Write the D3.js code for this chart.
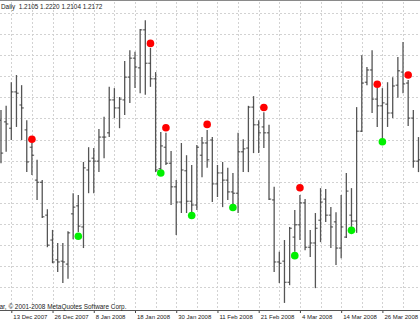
<!DOCTYPE html>
<html>
<head>
<meta charset="utf-8">
<script src="https://cdn.jsdelivr.net/npm/d3@7"></script>
<style>
html, body { margin: 0; padding: 0; background: #fff; }
svg { display: block; }
text { font-family: "Liberation Sans", Arial, sans-serif; fill: #222; }
</style>
</head>
<body>
<div id="chart"></div>
<script>
"use strict"

// daily bars, first one is two bars before 13 Dec 2007
const firstBar = -2;

const opens = [1.2346, 1.2342, 1.2327, 1.2413, 1.2382, 1.2323, 1.2282, 1.2204, 1.2199, 1.2121,
    1.2062, 1.2015, 1.2012, 1.2005, 1.2124, 1.2143, 1.2093, 1.2228, 1.2256, 1.2249,
    1.2306, 1.2316, 1.2394, 1.2375, 1.2394, 1.2448, 1.2493, 1.2470, 1.2560, 1.2481,
    1.2444, 1.2231, 1.2282, 1.2244, 1.2188, 1.2152, 1.2226, 1.2154, 1.2145, 1.2263,
    1.2292, 1.2299, 1.2195, 1.2221, 1.2204, 1.2176, 1.2173, 1.2271, 1.2280, 1.2377,
    1.2335, 1.2330, 1.2316, 1.2157, 1.2010, 1.2012, 1.1962, 1.2069, 1.2098, 1.2150,
    1.2045, 1.2055, 1.2109, 1.2159, 1.2121, 1.2105, 1.2043, 1.2069, 1.2121, 1.2107,
    1.2320, 1.2436, 1.2465, 1.2396, 1.2380, 1.2384, 1.2363, 1.2429, 1.2460, 1.2434,
    1.2351, 1.2249];

const highs = [1.2370, 1.2380, 1.2436, 1.2453, 1.2429, 1.2346, 1.2292, 1.2252, 1.2204, 1.2135,
    1.2086, 1.2055, 1.2055, 1.2083, 1.2173, 1.2169, 1.2247, 1.2282, 1.2280, 1.2325,
    1.2354, 1.2425, 1.2422, 1.2401, 1.2486, 1.2512, 1.2508, 1.2562, 1.2583, 1.2517,
    1.2460, 1.2318, 1.2316, 1.2273, 1.2204, 1.2292, 1.2263, 1.2240, 1.2287, 1.2306,
    1.2323, 1.2306, 1.2240, 1.2247, 1.2233, 1.2221, 1.2316, 1.2301, 1.2380, 1.2403,
    1.2346, 1.2365, 1.2335, 1.2188, 1.2034, 1.2062, 1.2093, 1.2133, 1.2169, 1.2159,
    1.2086, 1.2126, 1.2185, 1.2183, 1.2140, 1.2128, 1.2169, 1.2221, 1.2185, 1.2377,
    1.2500, 1.2472, 1.2512, 1.2422, 1.2422, 1.2436, 1.2448, 1.2496, 1.2531, 1.2441,
    1.2370, 1.2306];

const lows = [1.2244, 1.2271, 1.2299, 1.2330, 1.2299, 1.2223, 1.2216, 1.2157, 1.2114, 1.2045,
    1.2007, 1.1986, 1.1960, 1.1970, 1.2064, 1.2081, 1.2043, 1.2173, 1.2173, 1.2223,
    1.2256, 1.2306, 1.2351, 1.2327, 1.2358, 1.2387, 1.2422, 1.2410, 1.2406, 1.2425,
    1.2223, 1.2228, 1.2240, 1.2145, 1.2074, 1.2126, 1.2126, 1.2126, 1.2133, 1.2211,
    1.2233, 1.2152, 1.2164, 1.2140, 1.2157, 1.2147, 1.2126, 1.2223, 1.2223, 1.2268,
    1.2268, 1.2280, 1.2157, 1.1986, 1.1960, 1.1913, 1.1955, 1.2034, 1.2062, 1.2038,
    1.2022, 1.1948, 1.2057, 1.2105, 1.2043, 1.2003, 1.2019, 1.2067, 1.2093, 1.2079,
    1.2318, 1.2429, 1.2363, 1.2330, 1.2301, 1.2330, 1.2351, 1.2399, 1.2410, 1.2332,
    1.2233, 1.2223];

const closes = [1.2268, 1.2337, 1.2413, 1.2410, 1.2375, 1.2247, 1.2263, 1.2199, 1.2117, 1.2050,
    1.2010, 1.2010, 1.2010, 1.2079, 1.2140, 1.2095, 1.2233, 1.2249, 1.2249, 1.2306,
    1.2306, 1.2394, 1.2375, 1.2396, 1.2448, 1.2493, 1.2472, 1.2560, 1.2481, 1.2444,
    1.2228, 1.2285, 1.2244, 1.2188, 1.2152, 1.2228, 1.2154, 1.2145, 1.2282, 1.2292,
    1.2252, 1.2195, 1.2221, 1.2204, 1.2176, 1.2173, 1.2271, 1.2278, 1.2377, 1.2335,
    1.2316, 1.2316, 1.2159, 1.2010, 1.2007, 1.1962, 1.2090, 1.2098, 1.2150, 1.2045,
    1.2055, 1.2090, 1.2152, 1.2121, 1.2093, 1.2043, 1.2093, 1.2178, 1.2107, 1.2320,
    1.2434, 1.2465, 1.2396, 1.2380, 1.2387, 1.2363, 1.2427, 1.2463, 1.2432, 1.2351,
    1.2249, 1.2252];

// signal dots (bar number, price)
const redBars = [4, 27, 30, 38, 49, 56, 71, 77];
const redPrices = [1.2301, 1.2528, 1.2328, 1.2336, 1.2376, 1.2186, 1.2431, 1.2453];
const greenBars = [13, 29, 35, 43, 55, 66, 72];
const greenPrices = [1.2071, 1.2221, 1.2120, 1.2139, 1.2025, 1.2085, 1.2295];

// date labels on the time axis
const tickBars = [0, 8, 16, 24, 32, 40, 48, 56, 64, 72];
const tickLabels = ["13 Dec 2007", "26 Dec 2007", "8 Jan 2008", "18 Jan 2008", "30 Jan 2008",
    "11 Feb 2008", "21 Feb 2008", "4 Mar 2008", "14 Mar 2008", "26 Mar 2008"];

const headerText = "Daily  1.2105 1.2220 1.2104 1.2172";
const copyrightText = "ar, \u00a9 2001-2008 MetaQuotes Software Corp.";

const width = 420, height = 323;
const axisY = 310;

let drawing = d3.select("#chart")
    .append("svg")
    .attr("width", width)
    .attr("height", height);

drawing.append("rect")
    .attr("width", width)
    .attr("height", height)
    .attr("fill", "#fff");

let x = d3.scaleLinear().domain([0, 72]).range([11.3, 382.4]);
let y = d3.scaleLinear().domain([1.2600, 1.1950]).range([13, 287.3]);

let bars = d3.range(opens.length).map(i => ({
    n: i + firstBar, o: opens[i], h: highs[i], l: lows[i], c: closes[i]
}));

/* dotted grid */
let gridX = d3.range(0, 80, 4);
let gridY = d3.range(1.1950, 1.2601, 0.005);

drawing.append("g").selectAll("line")
    .data(gridX)
    .join("line")
    .attr("x1", d => Math.round(x(d)) + 0.5)
    .attr("x2", d => Math.round(x(d)) + 0.5)
    .attr("y1", 2)
    .attr("y2", axisY)
    .attr("stroke", "#d2d2d2")
    .attr("stroke-dasharray", "2,2");

drawing.append("g").selectAll("line")
    .data(gridY)
    .join("line")
    .attr("x1", 0)
    .attr("x2", width)
    .attr("y1", d => Math.round(y(d)) + 0.5)
    .attr("y2", d => Math.round(y(d)) + 0.5)
    .attr("stroke", "#d2d2d2")
    .attr("stroke-dasharray", "2,2");

// top frame line
drawing.append("line")
    .attr("x1", 0).attr("x2", width)
    .attr("y1", 0.5).attr("y2", 0.5)
    .attr("stroke", "#8a8a8a");

/* OHLC bars */
let barG = drawing.append("g").attr("stroke", "#555");

barG.selectAll("line.hl")
    .data(bars)
    .join("line")
    .attr("class", "hl")
    .attr("x1", d => x(d.n))
    .attr("x2", d => x(d.n))
    .attr("y1", d => y(d.h))
    .attr("y2", d => y(d.l))
    .attr("stroke-width", 1.3);

barG.selectAll("line.op")
    .data(bars)
    .join("line")
    .attr("class", "op")
    .attr("x1", d => x(d.n) - 2.2)
    .attr("x2", d => x(d.n))
    .attr("y1", d => y(d.o))
    .attr("y2", d => y(d.o))
    .attr("stroke", "#333")
    .attr("stroke-width", 0.9);

barG.selectAll("line.cl")
    .data(bars)
    .join("line")
    .attr("class", "cl")
    .attr("x1", d => x(d.n))
    .attr("x2", d => x(d.n) + 2.2)
    .attr("y1", d => y(d.c))
    .attr("y2", d => y(d.c))
    .attr("stroke", "#333")
    .attr("stroke-width", 0.9);

/* signal dots */
drawing.append("g").selectAll("circle")
    .data(redBars.map((b, i) => [b, redPrices[i]]))
    .join("circle")
    .attr("cx", d => x(d[0]))
    .attr("cy", d => y(d[1]))
    .attr("r", 3.8)
    .attr("fill", "#ff0000");

drawing.append("g").selectAll("circle")
    .data(greenBars.map((b, i) => [b, greenPrices[i]]))
    .join("circle")
    .attr("cx", d => x(d[0]))
    .attr("cy", d => y(d[1]))
    .attr("r", 3.8)
    .attr("fill", "#00f000");

/* time axis */
let xAxis = d3.axisBottom(x)
    .tickValues(tickBars)
    .tickSize(3)
    .tickFormat((d, i) => tickLabels[i]);

let axisG = drawing.append("g")
    .attr("transform", `translate(0,${axisY})`)
    .call(xAxis);

axisG.select(".domain").remove();
axisG.selectAll(".tick line").attr("stroke", "#444");
axisG.selectAll(".tick text")
    .attr("text-anchor", "start")
    .attr("x", 1.5)
    .attr("y", 5)
    .attr("font-family", "Liberation Sans, Arial, sans-serif")
    .attr("font-size", 6)
    .attr("fill", "#222");

drawing.append("line")
    .attr("x1", 0).attr("x2", width)
    .attr("y1", axisY + 0.5).attr("y2", axisY + 0.5)
    .attr("stroke", "#555");

drawing.append("text")
    .attr("x", 1)
    .attr("y", 8.5)
    .attr("font-size", 6.4)
    .attr("xml:space", "preserve")
    .text(headerText);

drawing.append("text")
    .attr("x", -0.5)
    .attr("y", 308.8)
    .attr("font-size", 6.4)
    .text(copyrightText);
</script>
</body>
</html>
